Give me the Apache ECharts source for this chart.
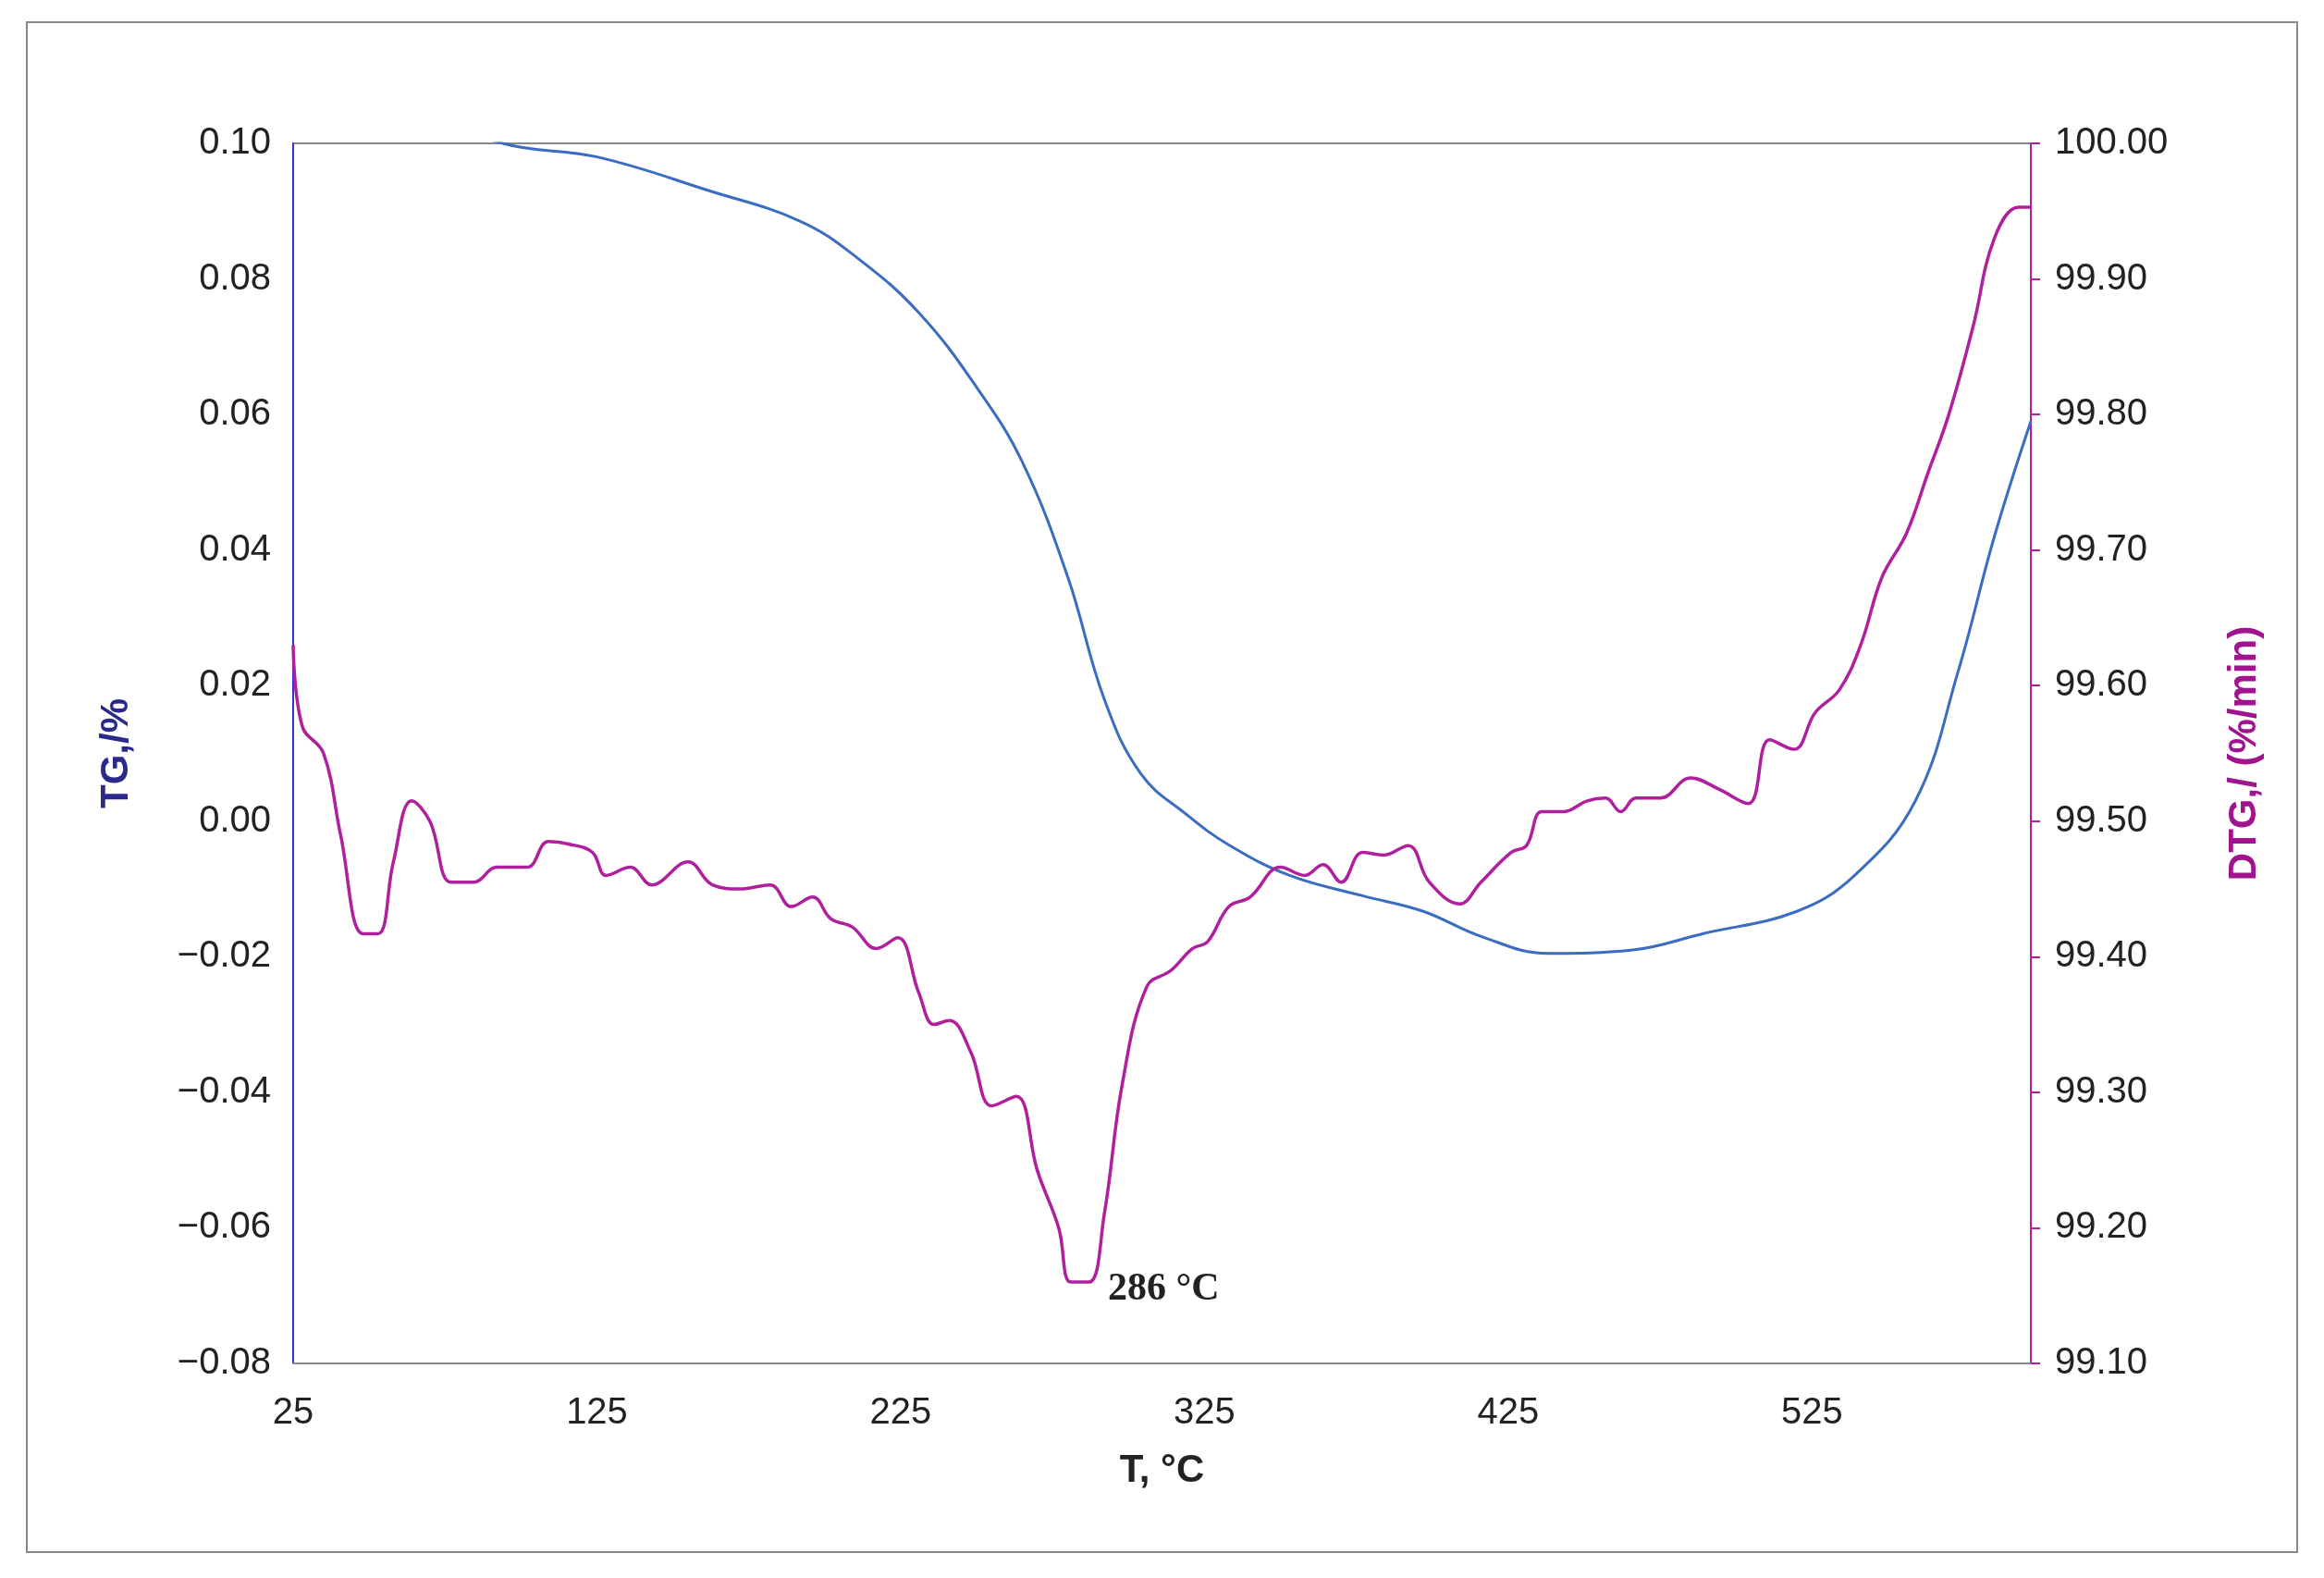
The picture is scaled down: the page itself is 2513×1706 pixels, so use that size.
<!DOCTYPE html>
<html>
<head>
<meta charset="utf-8">
<script src="https://cdn.jsdelivr.net/npm/echarts@6/dist/echarts.min.js"></script>
<style>html,body{margin:0;padding:0;background:#fff}#main{width:2513px;height:1706px}</style>
</head>
<body>
<div id="main"></div>
<script>
// TG curve (left axis)
var tgT = [25, 60, 94, 125, 162, 192, 211, 231, 250, 265, 280, 292, 304, 319, 333, 353, 377, 397, 416, 438, 466, 489, 520, 539, 559, 573, 585, 597];
var tgV = [0.112, 0.106, 0.100, 0.098, 0.093, 0.0885, 0.083, 0.075, 0.064, 0.053, 0.036, 0.018, 0.007, 0.001, -0.0035, -0.008, -0.011, -0.0133, -0.017, -0.0195, -0.019, -0.0166, -0.0133, -0.008, 0.003, 0.022, 0.042, 0.059];

// DTG curve (right axis)
var dtgT = [25, 28, 35, 40.6, 48, 53, 58, 64, 70, 77, 84.5, 92, 102, 109, 116, 123.5, 128, 136, 143, 155, 163, 172, 182, 189, 196, 202, 209, 217, 224, 231, 236, 241, 248, 255, 263, 270, 277, 281, 287, 292, 298, 306, 314, 321, 326, 333, 340, 350, 358, 364, 370, 377, 384, 392, 399, 409, 416, 426, 431, 436, 443, 451, 457, 462, 467, 475, 485, 494, 504, 511, 519, 526, 534, 541, 548, 556, 563, 570, 578, 585, 593, 597];
var dtgV = [99.63, 99.57, 99.55, 99.49, 99.417, 99.417, 99.47, 99.515, 99.50, 99.455, 99.455, 99.466, 99.466, 99.485, 99.483, 99.477, 99.46, 99.466, 99.453, 99.47, 99.453, 99.45, 99.453, 99.437, 99.444, 99.428, 99.422, 99.406, 99.414, 99.373, 99.35, 99.353, 99.33, 99.29, 99.297, 99.242, 99.2, 99.16, 99.16, 99.21, 99.307, 99.378, 99.39, 99.406, 99.411, 99.437, 99.444, 99.466, 99.46, 99.468, 99.455, 99.477, 99.475, 99.482, 99.455, 99.439, 99.455, 99.477, 99.482, 99.507, 99.507, 99.515, 99.517, 99.507, 99.517, 99.517, 99.532, 99.524, 99.513, 99.56, 99.553, 99.58, 99.597, 99.63, 99.68, 99.712, 99.756, 99.80, 99.865, 99.93, 99.953, 99.953];

var xTicks = [25, 125, 225, 325, 425, 525];

function pairs(a, b) {
    return a.map(function (v, i) { return [v, b[i]]; });
}

var myChart = echarts.init(document.getElementById('main'), null, { renderer: 'canvas' });
var font = 'Liberation Sans';
var option = {
    backgroundColor: '#fff',
    animation: false,
    graphic: [{
        type: 'rect', shape: { x: 29, y: 24, width: 2455, height: 1654 },
        style: { fill: 'none', stroke: '#888', lineWidth: 2 }
    }],
    grid: { left: 317, right: 317, top: 155, bottom: 232, show: true, borderColor: '#888', borderWidth: 2 },
    xAxis: {
        type: 'value', min: 25, max: 597,
        name: 'T, °C', nameLocation: 'middle', nameGap: 95,
        nameTextStyle: { fontFamily: font, fontSize: 42, fontWeight: 'bold', color: '#222' },
        axisLine: { onZero: false, lineStyle: { color: '#888', width: 2 } },
        axisTick: { show: false },
        splitLine: { show: false },
        axisLabel: { customValues: xTicks, fontFamily: font, fontSize: 40, color: '#222', margin: 34 }
    },
    yAxis: [{
        type: 'value', min: -0.08, max: 0.10, interval: 0.02,
        name: 'TG,/%', nameLocation: 'middle', nameGap: 170,
        nameTextStyle: { fontFamily: font, fontSize: 42, fontWeight: 'bold', color: '#2a2a8c' },
        axisLine: { show: true, lineStyle: { color: '#3333cc', width: 2 } },
        axisTick: { show: false },
        splitLine: { show: false },
        axisLabel: {
            fontFamily: font, fontSize: 40, color: '#222', margin: 24,
            formatter: function (v) { return (v < 0 ? '\u2212' : '') + Math.abs(v).toFixed(2); }
        }
    }, {
        type: 'value', min: 99.1, max: 100, interval: 0.1,
        name: 'DTG,/ (%/min)', nameLocation: 'middle', nameGap: 210, nameRotate: 90,
        nameTextStyle: { fontFamily: font, fontSize: 42, fontWeight: 'bold', color: '#a0158f' },
        axisLine: { show: true, lineStyle: { color: '#b0209c', width: 2 } },
        axisTick: { show: true, length: 10, lineStyle: { color: '#b0209c', width: 2 } },
        splitLine: { show: false },
        axisLabel: {
            fontFamily: font, fontSize: 40, color: '#222', margin: 26,
            formatter: function (v) { return v.toFixed(2); }
        }
    }],
    series: [{
        name: 'TG', type: 'line', yAxisIndex: 0, smooth: 0.4, showSymbol: false, clip: true,
        data: pairs(tgT, tgV),
        lineStyle: { color: '#3a6cc2', width: 3 }
    }, {
        name: 'DTG', type: 'line', yAxisIndex: 1, smooth: 0.4, showSymbol: false, clip: true,
        data: pairs(dtgT, dtgV),
        lineStyle: { color: '#b0209c', width: 3.5 },
        markPoint: {
            symbol: 'circle', symbolSize: 1, itemStyle: { color: 'transparent' },
            data: [{ coord: [290, 99.16] }],
            label: {
                show: true, position: 'right', distance: 10, offset: [0, 8],
                formatter: '286 °C',
                fontFamily: 'Liberation Serif', fontWeight: 'bold', fontSize: 42, color: '#222'
            }
        }
    }]
};
myChart.setOption(option);
</script>
</body>
</html>
